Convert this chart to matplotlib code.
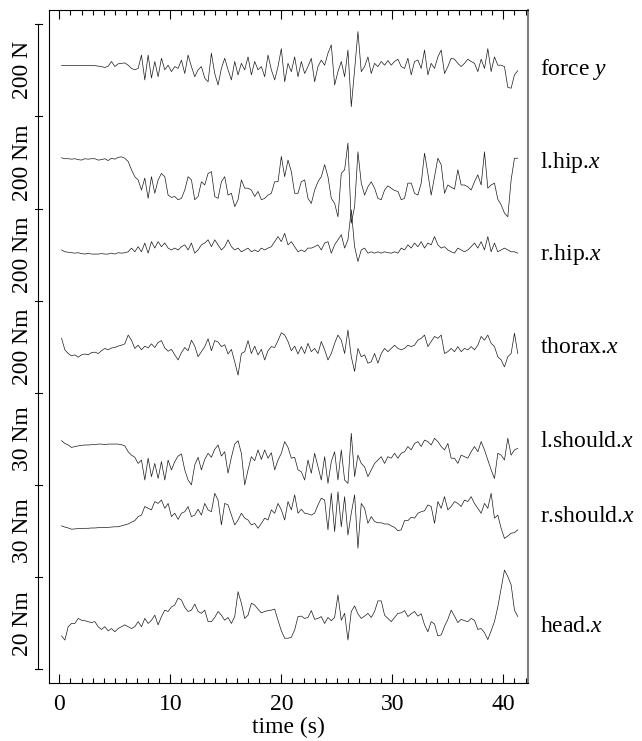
import numpy as np
import matplotlib
matplotlib.use("Agg")
import matplotlib.pyplot as plt
from matplotlib.ticker import MultipleLocator

plt.rcParams['font.family'] = ['Liberation Serif', 'DejaVu Serif']
plt.rcParams['mathtext.fontset'] = 'custom'
plt.rcParams['mathtext.rm'] = 'Liberation Serif'
plt.rcParams['mathtext.it'] = 'Liberation Serif:italic'

# sampling times (s)
time_s = np.round(0.2 + 0.3 * np.arange(138), 2)

# signals (N or Nm)
force_y = [0, 0, 0, 0, 0, 0, 0, 0, 0, 0, 0,
           -1, -2, -4, -1, 9, -2, 4, 5, 6, 1,
           -6, -9, -6, 23, -31, 23, -27, 9, -24, 16,
           -9, 1, -13, -2, -6, 12, -17, 23, -2, -24,
           -9, -2, -27, -35, 27, -17, -42, -6, 16, -9,
           -31, 9, -20, 5, -9, 19, -20, 9, -9, -2,
           -24, 23, -9, -31, -2, 37, -35, 5, -13, 19,
           -24, 9, -17, -2, 16, -35, -2, 12, 1, 27,
           45, -42, -13, 9, -24, 34, -89, -9, 74, -13,
           -2, 19, -17, 5, -2, 9, 1, 11, 1, 9,
           14, -2, -6, 16, -20, 9, 12, -6, 34, -20,
           5, -6, 19, 34, -17, -2, 16, 14, 5, -2,
           5, 14, 9, 5, -13, 14, -6, 37, -13, 19,
           1, 1, -2, -47, -49, -20, -11]

l_hip_x = [1, -1, -1, -2, -1, -3, -4, -1, -2, -1, -1, -4, -3, -1, -5, 0, -2,
           2, 3, 0, -7,
           -25, -40, -47, -69, -43, -87, -40, -76, -47, -33,
           -40, -80, -85, -83, -90, -87, -69, -40, -47, -90,
           -83, -51, -58, -33, -29, -83, -87, -51, -40, -80,
           -76, -105, -90, -47, -65, -65, -69, -83, -72, -90,
           -87, -80, -76, -51, -51, 4, -40, -4, -29, -76,
           -76, -51, -47, -87, -98, -69, -51, -40, -14, -40,
           -87, -98, -127, -33, -25, 33, -141, -105, 14, -54,
           -80, -62, -51, -65, -87, -90, -69, -60, -65, -70,
           -72, -90, -87, -54, -54, -76, -80, -54, 11, -33,
           -80, -40, 0, -14, -76, -58, -63, -67, -25, -58,
           -58, -62, -69, -51, -36, -58, 14, -65, -58, -54,
           -89, -101, -119, -127, -47, 0, 0]

r_hip_x = [5, 1, 0, -1, -2, -1, -3, -4, -2, -4, -4,
           -4, -3, -4, -4, -2, -4, -1, -2, -1, 1,
           9, 1, 12, 1, 20, -2, 23, 9, 23, 12,
           20, 9, 5, 9, 5, 12, 16, 5, 20, -2,
           5, 16, 20, 27, 12, 27, 16, 5, 12, 27,
           12, 5, 9, 1, 5, 9, 1, 5, 1, 9,
           5, 9, 12, 23, 34, 23, 41, 16, 23, 12,
           1, 5, 1, 9, 9, 12, 16, 5, 20, 23,
           -2, 16, 27, 38, 9, 27, 92, 12, -20, 5,
           9, -2, 1, -2, 1, -2, 1, -1, -2, 1,
           -2, 9, 5, 16, 9, 20, 12, 23, 9, 20,
           16, 34, 16, 9, 12, 5, 1, -2, 9, 5,
           1, 5, 12, 20, 9, 23, 5, 34, 1, 20,
           1, 5, 9, 5, 1, 1, -2]

thorax_x = [29, 4, -4, -9, -7, -12, -7, -5, -7, -2, -1,
            -4, 2, 7, 4, 8, 9, 12, 14, 17, 36,
            25, 7, 14, 4, 12, 8, 17, 9, 20, 24,
            8, 1, 5, -7, -18, -2, 9, 2, 25, 12,
            -11, 0, 11, 28, 2, 24, 21, 11, 15, -5,
            5, -22, -51, -4, 0, 24, -4, 12, -7, 5,
            -18, 2, 11, 9, 24, 41, 36, 22, 2, 12,
            -5, 11, -4, 18, 0, 7, -4, 22, 4, -18,
            -4, 18, 36, 25, -4, 47, -11, -43, 7, -11,
            -7, -25, -22, -4, -25, -4, 7, 0, 7, 14,
            7, 4, 7, 14, 11, 14, 25, 29, 36, 11,
            22, 33, 29, 36, -4, 0, 7, 0, 11, 0,
            7, 4, 11, 4, 14, 33, 25, 36, 18, 11,
            -11, -18, -33, -11, -4, 40, -4]

l_should_x = [1.4, 0.5, 0, -0.8, -0.5, -0.3, -0.1, 0, 0, 0.1, 0.1,
              0.3, 0.3, 0.1, 0.3, 0.3, 0.3, 0.3, 0.1, -0.3, -2.2,
              -3.3, -4.0, -6.0, -4.9, -11.4, -4.3, -10.3, -6.0, -10.9, -5.4,
              -11.4, -4.9, -8.1, -5.4, -3.6, -2.9, -8.1, -11.4, -13.0, -6.5,
              -4.0, -8.1, -4.7, -2.7, -4.0, -1.4, 0, -3.6, -2.2, -9.2,
              -4.0, 0.3, 1.4, -2.7, -13.0, -8.1, -3.8, -5.1, -1.6, -4.7,
              -1.6, -4.3, -2.5, -8.1, -4.9, -2.7, 1.1, -0.8, -4.3, -4.0,
              -8.1, -8.7, -11.4, -4.9, -9.2, -2.7, -7.1, -11.4, -3.8, -12.5,
              -5.4, -2.2, -11.4, -1.6, -11.4, -12.5, 3.8, -10.3, -3.3, -6.0,
              -7.1, -10.3, -8.1, -6.0, -4.9, -3.8, -6.0, -3.8, -4.3, -2.7,
              -4.3, -2.7, -2.2, -0.5, -1.6, 0.5, 1.1, -0.5, 1.6, 1.1,
              0, 2.2, 1.1, -0.5, -1.6, 0.5, -4.3, -4.3, -6.0, -3.3,
              -3.8, -4.3, -2.2, -0.5, -2.2, 1.1, -1.6, -4.9, -8.1, -10.9,
              -2.7, -3.3, -4.9, 2.2, -3.3, -1.6, -1.1]

r_should_x = [0.8, 0.4, 0.1, -0.3, -0.2, -0.1, -0.1, 0, 0, 0.1, 0.1,
              0.2, 0.2, 0.3, 0.3, 0.4, 0.5, 0.5, 0.8, 1.1, 1.4,
              2.0, 2.5, 3.8, 4.3, 7.1, 6.5, 6.0, 8.7, 8.1, 9.2,
              6.5, 8.1, 3.8, 4.9, 2.9, 4.9, 5.4, 7.1, 3.8, 4.3,
              6.2, 4.3, 8.1, 6.0, 5.4, 11.4, 9.2, 1.1, 8.1, 7.6,
              4.3, 1.1, 2.7, 4.9, 3.3, 2.7, 1.1, 1.6, 0, 1.6,
              3.3, 2.7, 6.0, 4.9, 8.1, 6.0, 2.7, 8.7, 6.0, 10.9,
              4.9, 6.2, 4.9, 4.7, 4.3, 4.9, 7.6, 9.8, 9.2, -0.5,
              11.4, -1.1, 11.9, 0.5, 10.3, -2.2, 4.9, 10.9, -6.5, 8.1,
              6.5, 1.6, 3.8, 2.2, 1.8, 1.8, 1.4, 1.4, 0.8, 0.3,
              -0.8, -0.5, 2.5, 2.5, 3.6, 3.3, 4.9, 5.4, 5.7, 7.6,
              7.1, 1.6, 8.7, 6.5, 10.3, 6.0, 7.1, 8.7, 8.1, 7.1,
              9.2, 8.7, 10.3, 8.1, 6.5, 4.9, 8.1, 6.5, 11.4, 3.3,
              4.3, 0, -3.3, -2.5, -1.6, -1.4, -0.5]

head_x = [-2.0, -2.9, 0, 0.7, 0.7, 1.8, 1.4, 1.3, 1.1, 0.9, 1.1,
          0, -0.6, 0, -0.9, -0.4, -1.1, -0.4, 0, 0.4, 0,
          -0.4, 0, 1.1, 0, 1.8, 0.7, 1.4, 2.5, 0.4, 2.2,
          3.6, 3.3, 4.3, 4.7, 6.2, 5.8, 4.2, 3.3, 3.6, 4.9,
          3.3, 2.9, 3.6, 1.1, 1.1, 2.0, 3.3, 2.5, 1.4, 2.0,
          0.7, 2.2, 7.6, 5.1, 1.8, 2.5, 5.1, 4.7, 3.8, 3.0,
          3.3, 3.5, 3.6, 3.8, 1.4, -0.9, -2.5, -2.5, -2.3, -0.7,
          2.2, 2.3, 1.8, 2.0, 3.5, 1.6, 1.8, 2.2, 0.7, 2.0,
          1.3, 2.0, 6.9, 1.4, 2.9, -2.9, 3.3, 4.5, 2.8, 1.8,
          2.3, 2.9, 2.0, 3.3, 5.6, 5.6, 2.5, 1.8, 1.1, 2.0,
          2.9, 3.0, 3.5, 2.2, 2.8, 3.3, 2.3, 2.8, 0.4, -1.1,
          1.1, 0.6, -2.0, -1.8, 0.1, 1.6, 3.6, 2.3, 0.9, 1.6,
          1.3, 1.1, 1.8, 1.4, -0.6, -0.4, -1.3, -2.8, -0.9, 1.1,
          4.3, 8.3, 12.3, 10.9, 9.1, 3.6, 2.2]

channel_names = ["force $y$", "l.hip.$x$", "r.hip.$x$", "thorax.$x$",
                 "l.should.$x$", "r.should.$x$", "head.$x$"]
scale_labels = ["200 N", "200 Nm", "200 Nm", "200 Nm", "30 Nm", "30 Nm", "20 Nm"]
scale_sizes = [200, 200, 200, 200, 30, 30, 20]
xtick_values = [0, 10, 20, 30, 40]

signals = [force_y, l_hip_x, r_hip_x, thorax_x, l_should_x, r_should_x, head_x]

# layout (in scale-bar units)
baselines = [6.551, 5.546, 4.526, 3.447, 2.434, 1.530, 0.462]
name_y = [6.504, 5.495, 4.497, 3.487, 2.467, 1.653, 0.459]

fig = plt.figure(figsize=(6.42, 7.41), dpi=100)
ax = fig.add_axes([49 / 642, 1 - 683 / 741, 479 / 642, 673 / 741])

for sig, sc, base in zip(signals, scale_sizes, baselines):
    ax.plot(time_s, np.asarray(sig, float) / sc + base, color='#1a1a1a', lw=0.5)

ax.set_xlim(-0.93, 42.22)
ax.set_ylim(-0.149, 7.155)

ax.set_xticks(xtick_values)
ax.set_xticklabels([str(v) for v in xtick_values])
ax.xaxis.set_minor_locator(MultipleLocator(1))
ax.tick_params(axis='x', which='both', direction='in', top=True, bottom=True,
               labelsize=17, width=0.8, pad=8)
ax.tick_params(axis='x', which='major', length=6.5)
ax.tick_params(axis='x', which='minor', length=3.6)
ax.set_yticks([])
ax.set_xlabel('time (s)', fontsize=17, labelpad=1)

for side in ['left', 'top', 'bottom']:
    ax.spines[side].set_linewidth(0.8)
    ax.spines[side].set_color('black')
ax.spines['right'].set_color('#808080')
ax.spines['right'].set_linewidth(1.5)

# scale bar on the left
tr = ax.get_yaxis_transform()
bar_x = (38.3 - 49) / 479
tick_half = 3.5 / 479
n = len(scale_labels)
ax.plot([bar_x, bar_x], [0, n], transform=tr, color='black', lw=0.8, clip_on=False)
for i in range(n + 1):
    ax.plot([bar_x - tick_half, bar_x + tick_half], [i, i], transform=tr,
            color='black', lw=0.8, clip_on=False)
for i, lab in enumerate(scale_labels):
    ax.text((22.5 - 49) / 479, n - i - 0.5, lab, transform=tr, rotation=90,
            ha='center', va='center', fontsize=17)

for name, yy in zip(channel_names, name_y):
    ax.text((540 - 49) / 479, yy, name, transform=tr, ha='left', va='center',
            fontsize=17)

fig.savefig('out.png', dpi=100)
